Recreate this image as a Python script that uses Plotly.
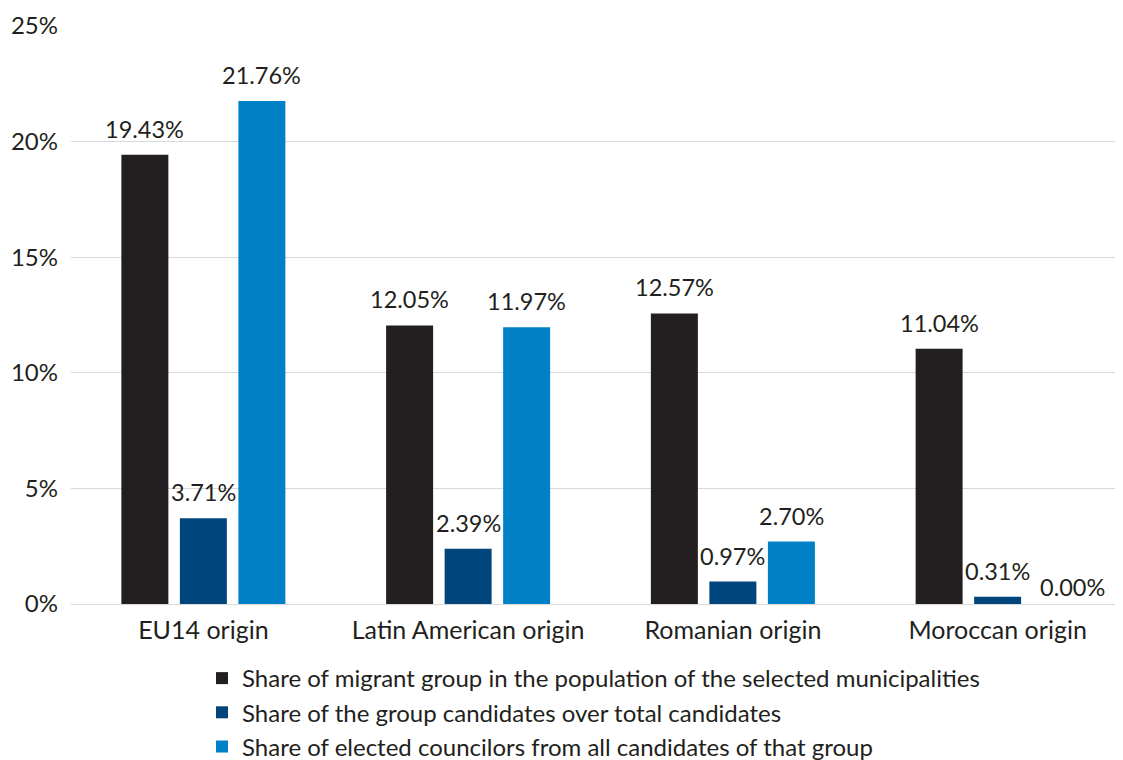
import plotly.graph_objects as go

categories = ["EU14 origin", "Latin American origin", "Romanian origin", "Moroccan origin"]
series_names = [
    "Share of migrant group in the population of the selected municipalities",
    "Share of the group candidates over total candidates",
    "Share of elected councilors from all candidates of that group",
]
population_share = [19.43, 12.05, 12.57, 11.04]
candidates_share = [3.71, 2.39, 0.97, 0.31]
elected_share = [21.76, 11.97, 2.70, 0.00]
y_ticks = [0, 5, 10, 15, 20, 25]
y_tick_labels = ["0%", "5%", "10%", "15%", "20%", "25%"]

colors = ["#231f20", "#00457c", "#0080c6"]
values = [population_share, candidates_share, elected_share]

FONT = "Lato, 'Open Sans', sans-serif"
BARGAP = 0.337
BARGROUPGAP = 0.197
SLOT = (1 - BARGAP) / len(values)      # width of one bar slot, in category units
ZERO_NUDGE = 0.06                        # zero-height bar labels sit a bit to the right

fig = go.Figure()
for i, (name, vals, col) in enumerate(zip(series_names, values, colors)):
    fig.add_trace(go.Bar(
        x=categories, y=vals, name=name, legendgroup=f"g{i}",
        marker=dict(color=col, line=dict(width=0)),
        hovertemplate="%{x}: %{y:.2f}%<extra></extra>",
    ))

# data labels, placed in data coordinates above each bar
annotations = []
for i, vals in enumerate(values):
    off = (i - (len(values) - 1) / 2) * SLOT
    for j, v in enumerate(vals):
        annotations.append(dict(
            x=j + off + (ZERO_NUDGE if v == 0 else 0), y=v,
            xref="x", yref="y", text=f"{v:.2f}%", showarrow=False,
            yanchor="bottom", xanchor="center",
            yshift=(1 if v == 0 else 10),
            font=dict(family=FONT, size=23.5, color="#231f20"),
        ))

fig.update_layout(
    width=1122, height=780,
    paper_bgcolor="white", plot_bgcolor="white",
    margin=dict(l=63, r=0, t=18, b=184),
    barmode="group", bargap=BARGAP, bargroupgap=BARGROUPGAP,
    font=dict(family=FONT, size=23.5, color="#231f20"),
    showlegend=True,
    legend=dict(
        orientation="v", x=0.1237, xanchor="left", y=-0.09, yanchor="top",
        font=dict(family=FONT, size=24, color="#231f20"),
        itemsizing="constant", tracegroupgap=4, traceorder="normal",
    ),
    annotations=annotations,
)
fig.update_xaxes(showline=False, ticks="", tickfont=dict(size=25),
                 ticklabelstandoff=9, automargin=False)
fig.update_yaxes(
    range=[0, 25], tickvals=y_ticks, ticktext=y_tick_labels,
    showgrid=True, gridcolor="#d9d9d9", gridwidth=1,
    zeroline=True, zerolinecolor="#d9d9d9", zerolinewidth=1,
    showline=False, ticks="", tickfont=dict(size=24),
    ticklabelstandoff=12, automargin=False,
)
fig.write_html("out.html")
